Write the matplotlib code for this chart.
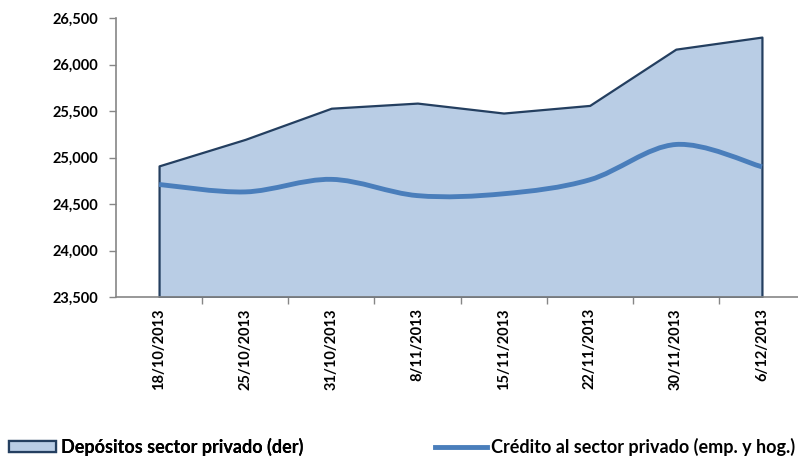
import numpy as np
import matplotlib
matplotlib.use("Agg")
import matplotlib.pyplot as plt
from matplotlib.path import Path
from matplotlib.patches import PathPatch, Patch
from matplotlib.lines import Line2D
from matplotlib.ticker import FuncFormatter, FixedLocator

plt.rcParams['font.family'] = ['Lato', 'DejaVu Sans']
plt.rcParams['font.weight'] = 'bold'

# Data
fechas = ["18/10/2013", "25/10/2013", "31/10/2013", "8/11/2013",
          "15/11/2013", "22/11/2013", "30/11/2013", "6/12/2013"]
depositos = [24910, 25195, 25530, 25585, 25478, 25560, 26165, 26295]
credito = [24710, 24630, 24765, 24590, 24610, 24760, 25140, 24900]

y_ticks = [23500, 24000, 24500, 25000, 25500, 26000, 26500]

area_fill = "#B9CDE5"
area_edge = "#243F60"
line_color = "#4A7EBB"
axis_gray = "#868686"

fig = plt.figure(figsize=(7.98, 4.58), dpi=100)
ax = fig.add_axes([116 / 798, 1 - 297 / 458, 689 / 798, 279 / 458])

x = np.arange(len(fechas))

# area series (deposits)
ax.fill_between(x, depositos, y_ticks[0], facecolor=area_fill,
                edgecolor=area_edge, linewidth=1.6, zorder=2)


# smoothed line like Excel (Catmull-Rom -> cubic Bezier in data coords)
def smooth_path(xs, ys):
    pts = np.column_stack([xs, ys]).astype(float)
    n = len(pts)
    verts = [pts[0]]
    codes = [Path.MOVETO]
    for i in range(n - 1):
        p0 = pts[i - 1] if i > 0 else pts[i]
        p1 = pts[i]
        p2 = pts[i + 1]
        p3 = pts[i + 2] if i + 2 < n else pts[i + 1]
        c1 = p1 + (p2 - p0) / 6.0
        c2 = p2 - (p3 - p1) / 6.0
        verts += [c1, c2, p2]
        codes += [Path.CURVE4] * 3
    return Path(verts, codes)


ax.add_patch(PathPatch(smooth_path(x, credito), facecolor="none",
                       edgecolor=line_color, linewidth=3.5, zorder=3,
                       capstyle="butt"))

ax.set_xlim(-0.5, 7.5)
ax.set_ylim(y_ticks[0], y_ticks[-1])

ax.set_yticks(y_ticks)
ax.yaxis.set_major_formatter(FuncFormatter(lambda v, p: f"{int(v):,}"))
ax.tick_params(axis="y", direction="out", length=5, width=1, color=axis_gray,
               pad=8, labelsize=10.5)

ax.set_xticks(x)
ax.set_xticklabels(fechas, rotation=90, fontsize=10.5)
ax.xaxis.set_minor_locator(FixedLocator(np.arange(0.5, 7.5, 1.0)))
ax.tick_params(axis="x", which="major", length=0, pad=8)
ax.tick_params(axis="x", which="minor", direction="out", length=5, width=1,
               color=axis_gray)

for s in ["top", "right"]:
    ax.spines[s].set_visible(False)
for s in ["left", "bottom"]:
    ax.spines[s].set_color(axis_gray)
    ax.spines[s].set_linewidth(1.2)

# legend (two separate entries, as in the original)
h1 = Patch(facecolor=area_fill, edgecolor=area_edge, linewidth=1.6)
h2 = Line2D([], [], color=line_color, linewidth=3.5)
leg_y = 1 - 447 / 458
leg1 = fig.legend([h1], ["Depósitos sector privado (der)"], loc="center left",
                  bbox_to_anchor=(9 / 798, leg_y), frameon=False, borderpad=0,
                  borderaxespad=0, handlelength=2.6, handleheight=0.55,
                  handletextpad=0.3, fontsize=13)
leg2 = fig.legend([h2], ["Crédito al sector privado (emp. y hog.)"],
                  loc="center left", bbox_to_anchor=(435 / 798, leg_y),
                  frameon=False, borderpad=0, borderaxespad=0,
                  handlelength=2.9, handletextpad=0.2, fontsize=13)
fig.add_artist(leg1)

fig.savefig("out.png", dpi=100)
